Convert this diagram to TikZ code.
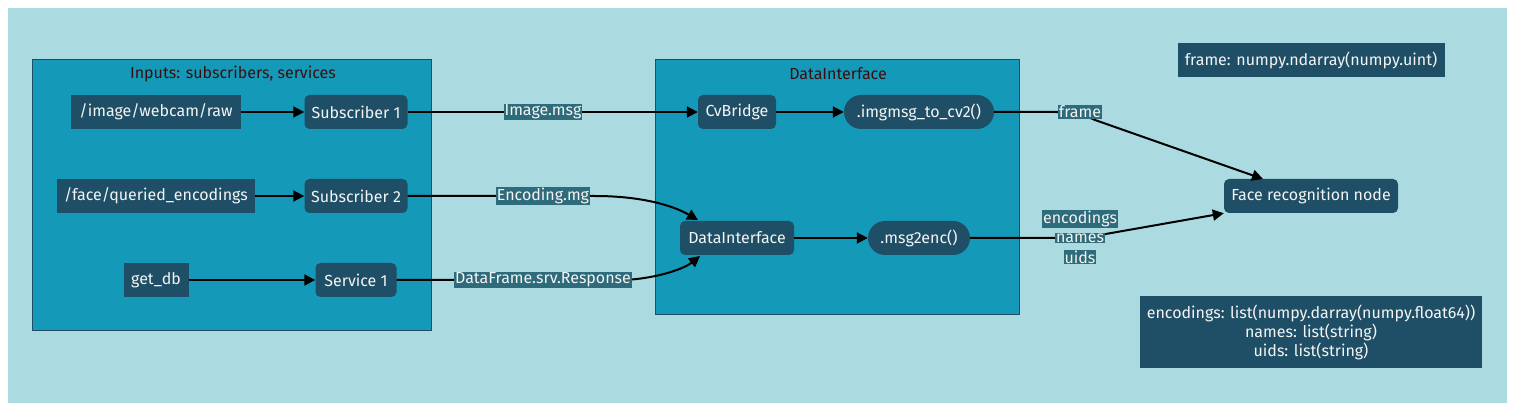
\documentclass[tikz,border=0pt]{standalone}
\usepackage{fontspec}
\setmainfont{Fira Sans}
\usetikzlibrary{arrows.meta}
\definecolor{bgc}{HTML}{ABDBE0}
\definecolor{clc}{HTML}{1599B8}
\definecolor{ndc}{HTML}{1F4F66}
\definecolor{lbc}{HTML}{2E6B7B}
\definecolor{txc}{HTML}{F4F4F4}
\definecolor{ttc}{HTML}{3A0E0E}
\begin{document}
\begin{tikzpicture}[x=1pt,y=-1pt,
  box/.style={fill=ndc, text=txc, inner sep=0pt, minimum height=34pt, font=\fontsize{16}{19}\selectfont},
  rbox/.style={box, rounded corners=5pt},
  pill/.style={box, rounded corners=17pt},
  cluster/.style={fill=clc, draw=ndc, line width=1pt},
  ctitle/.style={text=ttc, inner sep=0pt, font=\fontsize{16}{19}\selectfont},
  elabel/.style={fill=lbc, text=txc, inner sep=1pt, font=\fontsize{16}{17}\selectfont},
  conn/.style={line width=2pt, -{Triangle[length=11pt,width=11pt]}}]
\useasboundingbox (0,0) rectangle (1515,411);
\fill[white] (0,0) rectangle (1515,411);
\fill[bgc] (8,8) rectangle (1507,403);
% clusters
\draw[cluster] (32,60) rectangle (431,331);
\node[ctitle] (t1) at (233,74) {Inputs: subscribers, services};
\draw[cluster] (655,60) rectangle (1019,315);
\node[ctitle] (t2) at (838,74) {DataInterface};
% nodes
\node[box, minimum width=170pt] (raw) at (156,112) {/image/webcam/raw};
\node[rbox, minimum width=103pt] (s1) at (356,112) {Subscriber 1};
\node[box, minimum width=198pt] (qe) at (156,196) {/face/queried\_encodings};
\node[rbox, minimum width=103pt] (s2) at (356,196) {Subscriber 2};
\node[box, minimum width=65pt] (db) at (156,280) {get\_db};
\node[rbox, minimum width=81pt] (sv) at (356,280) {Service 1};
\node[rbox, minimum width=78pt] (cv) at (737,112) {CvBridge};
\node[pill, minimum width=150pt] (im) at (919,112) {.imgmsg\_to\_cv2()};
\node[rbox, minimum width=114pt] (di) at (737,238) {DataInterface};
\node[pill, minimum width=102pt] (me) at (919,238) {.msg2enc()};
\node[rbox, minimum width=174pt] (face) at (1311,196) {Face recognition node};
\node[box, minimum width=267pt] (fb) at (1311,60) {frame: numpy.ndarray(numpy.uint)};
\node[box, minimum width=342pt, minimum height=72pt, align=center, font=\fontsize{16}{19}\selectfont] (eb) at (1311,332)
  {encodings: list(numpy.darray(numpy.float64))\\names: list(string)\\uids: list(string)};
% label anchor coordinates
\coordinate (c1) at (543,112);
\coordinate (c2) at (543,196);
\coordinate (c3) at (543,280);
\coordinate (c4) at (1080,112);
\coordinate (c5) at (1080,238);
\coordinate (ft) at (1263,179);
% edges
\draw[conn] (raw) -- (s1);
\draw[conn] (qe) -- (s2);
\draw[conn] (db) -- (sv);
\draw[conn] (s1) -- (cv);
\draw[conn] (cv) -- (im);
\draw[conn] (di) -- (me);
\draw[conn] (s2.east) -- (c2) -- (595,196) .. controls (640,196) and (672,205) .. (698,220);
\draw[conn] (sv.east) -- (c3) -- (625,280) .. controls (660,278) and (685,268) .. (700,256);
\draw[conn] (im.east) -- (c4) -- (1055,112) .. controls (1072,112) and (1082,114) .. (1095,120) -- (ft);
\draw[conn] (me.east) -- (c5) -- (1060,238) .. controls (1075,238) and (1085,237) .. (1100,235) -- (face.south west);
% edge labels
\node[elabel] (l1) at (c1) {Image.msg};
\node[elabel] (l2) at (c2) {Encoding.mg};
\node[elabel] (l3) at (c3) {DataFrame.srv.Response};
\node[elabel] (l4) at (c4) {frame};
\node[elabel] (l5a) at (1080,219) {encodings};
\node[elabel] (l5b) at (1080,238) {names};
\node[elabel] (l5c) at (1080,257) {uids};
\end{tikzpicture}
\end{document}
